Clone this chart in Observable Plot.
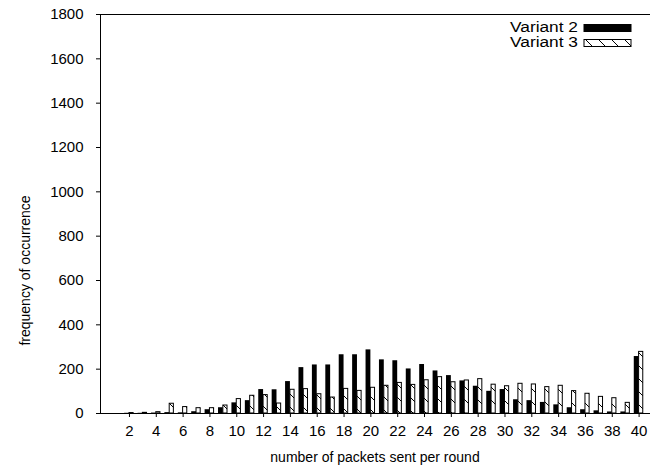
<!DOCTYPE html>
<html>
<head>
<meta charset="utf-8">
<script src="https://cdn.jsdelivr.net/npm/d3@7"></script>
<script src="https://cdn.jsdelivr.net/npm/@observablehq/plot@0.6"></script>
<style>
  html, body { margin: 0; padding: 0; background: #fff; }
</style>
</head>
<body>
<div id="chart"></div>
<script>
// packets sent per round (categories)
const packets = [1,2,3,4,5,6,7,8,9,10,11,12,13,14,15,16,17,18,19,20,
                 21,22,23,24,25,26,27,28,29,30,31,32,33,34,35,36,37,38,39,40];
// frequency of occurrence
const variant2 = [0,1,1,2,4,3,8,17,26,48,58,108,107,144,207,219,219,265,265,287,
                  242,238,201,221,192,171,147,123,100,108,62,58,50,39,26,17,12,7,7,257];
const variant3 = [0,2,3,6,44,29,24,24,36,65,80,83,45,107,110,87,72,111,102,116,
                  125,138,129,150,164,141,149,155,130,123,134,131,119,125,101,89,75,69,48,278];
const xTicks = [2,4,6,8,10,12,14,16,18,20,22,24,26,28,30,32,34,36,38,40];
const yTicks = [0,200,400,600,800,1000,1200,1400,1600,1800];
const seriesNames = ["Variant 2", "Variant 3"];
const xLabel = "number of packets sent per round";
const yLabel = "frequency of occurrence";

const data = packets.map((n, i) => ({n, v2: variant2[i], v3: variant3[i]}));
const bw = 0.36;

function decorations(index, scales, values, dim) {
  const g = d3.create("svg:g");
  const W = dim.width, H = dim.height;
  const top = dim.marginTop, bottom = H - dim.marginBottom, left = dim.marginLeft;
  // axis titles
  g.append("text")
    .attr("transform", `translate(26,${(top + bottom) / 2 + 57}) rotate(-90)`)
    .attr("text-anchor", "middle").attr("dominant-baseline", "middle")
    .attr("font-size", 14).attr("fill", "black").text(yLabel);
  g.append("text")
    .attr("x", (left + W - dim.marginRight) / 2).attr("y", bottom + 45)
    .attr("text-anchor", "middle").attr("dominant-baseline", "middle")
    .attr("font-size", 14).attr("fill", "black").text(xLabel);
  // legend
  const lx = W - 66, ly = top + 14;
  const fills = ["black", "url(#hatch)"];
  seriesNames.forEach((name, i) => {
    const y = ly + i * 15;
    g.append("text").attr("x", lx - 6).attr("y", y)
      .attr("text-anchor", "end").attr("dominant-baseline", "middle")
      .attr("font-size", 14).attr("textLength", 68).attr("lengthAdjust", "spacingAndGlyphs")
      .attr("fill", "black").text(name);
    g.append("rect").attr("x", lx).attr("y", y - 3.5).attr("width", 47).attr("height", 7)
      .attr("fill", fills[i]).attr("stroke", "black").attr("stroke-width", 1);
  });
  return g.node();
}

const chart = Plot.plot({
  width: 650,
  height: 470,
  marginLeft: 100,
  marginRight: 0,
  marginTop: 14,
  marginBottom: 57,
  style: {fontFamily: "'Liberation Sans', Arial, sans-serif", fontSize: "15px", color: "black", background: "white"},
  x: {type: "linear", domain: [-0.16, 40.85]},
  y: {domain: [0, 1800]},
  marks: [
    Plot.rectY(data, {x1: d => d.n - bw, x2: d => d.n, y: "v2", fill: "black"}),
    Plot.rectY(data, {x1: d => d.n, x2: d => d.n + bw - 0.05, y: "v3", fill: "url(#hatch)", stroke: "black", strokeWidth: 1}),
    Plot.axisX({ticks: xTicks, tickSize: 4, tickPadding: 8, label: null, tickFormat: d => String(d), stroke: "black"}),
    Plot.axisY({ticks: yTicks, tickSize: 4, tickPadding: 13, label: null, tickFormat: d => String(d), stroke: "black"}),
    Plot.ruleY([0], {stroke: "black"}),
    Plot.ruleY([1800], {stroke: "black"}),
    Plot.ruleX([-0.16], {stroke: "black"}),
    decorations
  ]
});

// hatch pattern definition
const defs = d3.select(chart).insert("defs", ":first-child");
const pat = defs.append("pattern").attr("id", "hatch")
  .attr("patternUnits", "userSpaceOnUse").attr("width", 13).attr("height", 13);
pat.append("rect").attr("width", 13).attr("height", 13).attr("fill", "white");
pat.append("path").attr("d", "M0,0L13,13M-2,11L2,15M11,-2L15,2")
  .attr("stroke", "black").attr("stroke-width", 1);

document.getElementById("chart").appendChild(chart);
</script>
</body>
</html>
